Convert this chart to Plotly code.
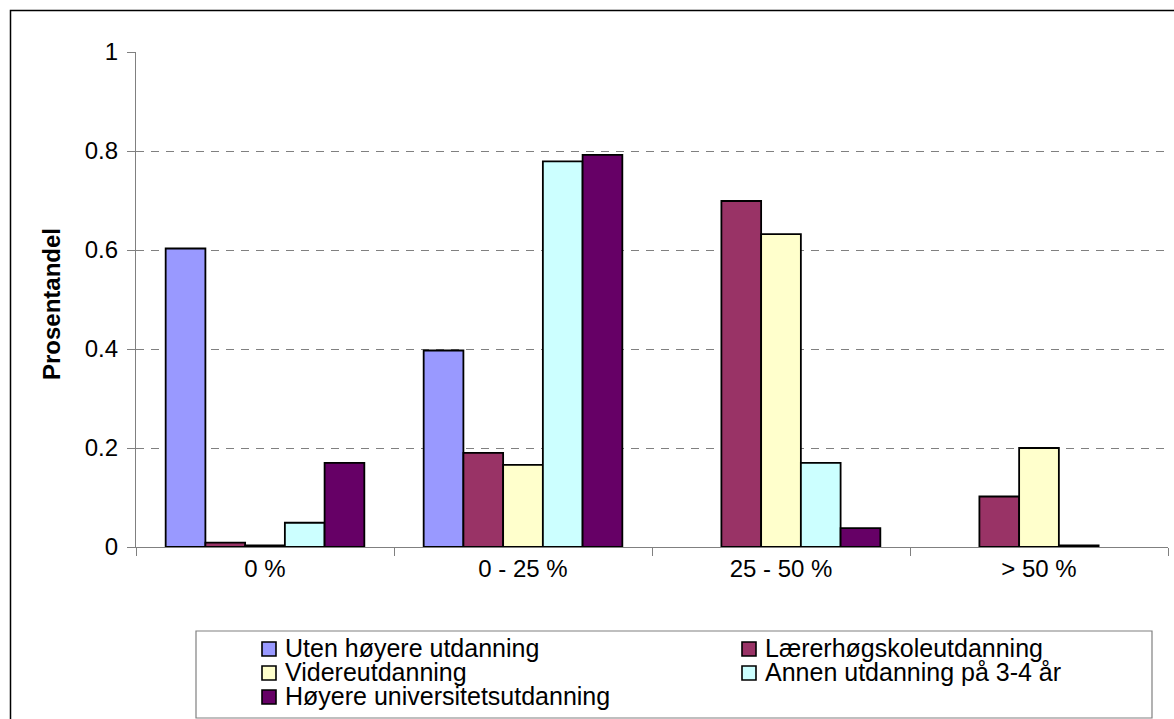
import plotly.graph_objects as go

# Share of respondents by education group
categories = ["0 %", "0 - 25 %", "25 - 50 %", "> 50 %"]

series_names = [
    "Uten høyere utdanning",
    "Lærerhøgskoleutdanning",
    "Videreutdanning",
    "Annen utdanning på 3-4 år",
    "Høyere universitetsutdanning",
]

uten_hoyere = [0.603, 0.397, None, None]
laererhogskole = [0.009, 0.19, 0.699, 0.102]
videreutdanning = [0.003, 0.166, 0.632, 0.2]
annen_utdanning = [0.049, 0.779, 0.17, 0.003]
hoyere_universitet = [0.17, 0.792, 0.038, None]

series_values = [uten_hoyere, laererhogskole, videreutdanning,
                 annen_utdanning, hoyere_universitet]
series_colors = ["#9999FF", "#993366", "#FFFFCC", "#CCFFFF", "#660066"]

y_ticks = [0, 0.2, 0.4, 0.6, 0.8, 1]
y_ticktext = ["0", "0.2", "0.4", "0.6", "0.8", "1"]

W, H = 1174, 719
ML, MR, MT, MB = 136, 6, 52, 172
PW, PH = W - ML - MR, H - MT - MB


def px_x(p):
    return (p - ML) / PW


def px_y(p):
    return (H - MB - p) / PH


FONT = "Liberation Sans, Arial, sans-serif"
FS = 24

fig = go.Figure()
for name, vals, col in zip(series_names, series_values, series_colors):
    fig.add_trace(go.Bar(
        name=name, x=categories, y=vals,
        marker=dict(color=col, line=dict(color="black", width=1.8)),
        hoverinfo="x+y+name",
    ))

shapes = [
    # outer chart frame
    dict(type="rect", xref="paper", yref="paper",
         x0=px_x(10.5), x1=px_x(1185), y0=px_y(10.5), y1=px_y(730),
         line=dict(color="black", width=1.5), layer="below"),
    # legend frame
    dict(type="rect", xref="paper", yref="paper",
         x0=px_x(196), x1=px_x(1152), y0=px_y(631), y1=px_y(718),
         line=dict(color="#808080", width=1.2), layer="below"),
]
annotations = [
    dict(text="<b>Prosentandel</b>", textangle=-90, showarrow=False,
         xref="paper", yref="paper", x=px_x(51), y=px_y(304),
         xanchor="center", yanchor="middle",
         font=dict(family=FONT, size=FS, color="black")),
]

# Legend laid out in two columns, three rows (pixel positions of each entry)
legend_cols = [262, 742]
legend_rows = [648, 672, 696]
for i, (name, col) in enumerate(zip(series_names, series_colors)):
    lx = legend_cols[i % 2]
    ly = legend_rows[i // 2]
    shapes.append(dict(
        type="rect", xref="paper", yref="paper",
        x0=px_x(lx), x1=px_x(lx + 14), y0=px_y(ly - 6), y1=px_y(ly + 8),
        fillcolor=col, line=dict(color="black", width=1.6)))
    annotations.append(dict(
        text=name, showarrow=False, xref="paper", yref="paper",
        x=px_x(lx + 21), y=px_y(ly), xanchor="left", yanchor="middle",
        font=dict(family=FONT, size=25, color="black")))

fig.update_layout(
    width=W, height=H,
    margin=dict(l=ML, r=MR, t=MT, b=MB, autoexpand=False),
    paper_bgcolor="white", plot_bgcolor="white",
    barmode="group", bargap=0.23, bargroupgap=0,
    font=dict(family=FONT, size=FS, color="black"),
    showlegend=False,
    xaxis=dict(
        type="category", showline=True, linecolor="#808080", linewidth=1.3,
        ticks="outside", ticklen=8, tickcolor="#808080", tickwidth=1.3,
        tickson="boundaries", showgrid=False, zeroline=False,
        tickfont=dict(family=FONT, size=FS, color="black"),
        fixedrange=True,
    ),
    yaxis=dict(
        range=[0, 1], tickvals=y_ticks, ticktext=y_ticktext,
        showline=True, linecolor="#808080", linewidth=1.3,
        ticks="outside", ticklen=8, tickcolor="#808080", tickwidth=1.3,
        showgrid=True, gridcolor="#808080", gridwidth=1.2, griddash="8px,7px",
        zeroline=False, ticklabelstandoff=4,
        tickfont=dict(family=FONT, size=FS, color="black"),
        fixedrange=True,
    ),
    shapes=shapes,
    annotations=annotations,
)

fig.write_html("out.html")
